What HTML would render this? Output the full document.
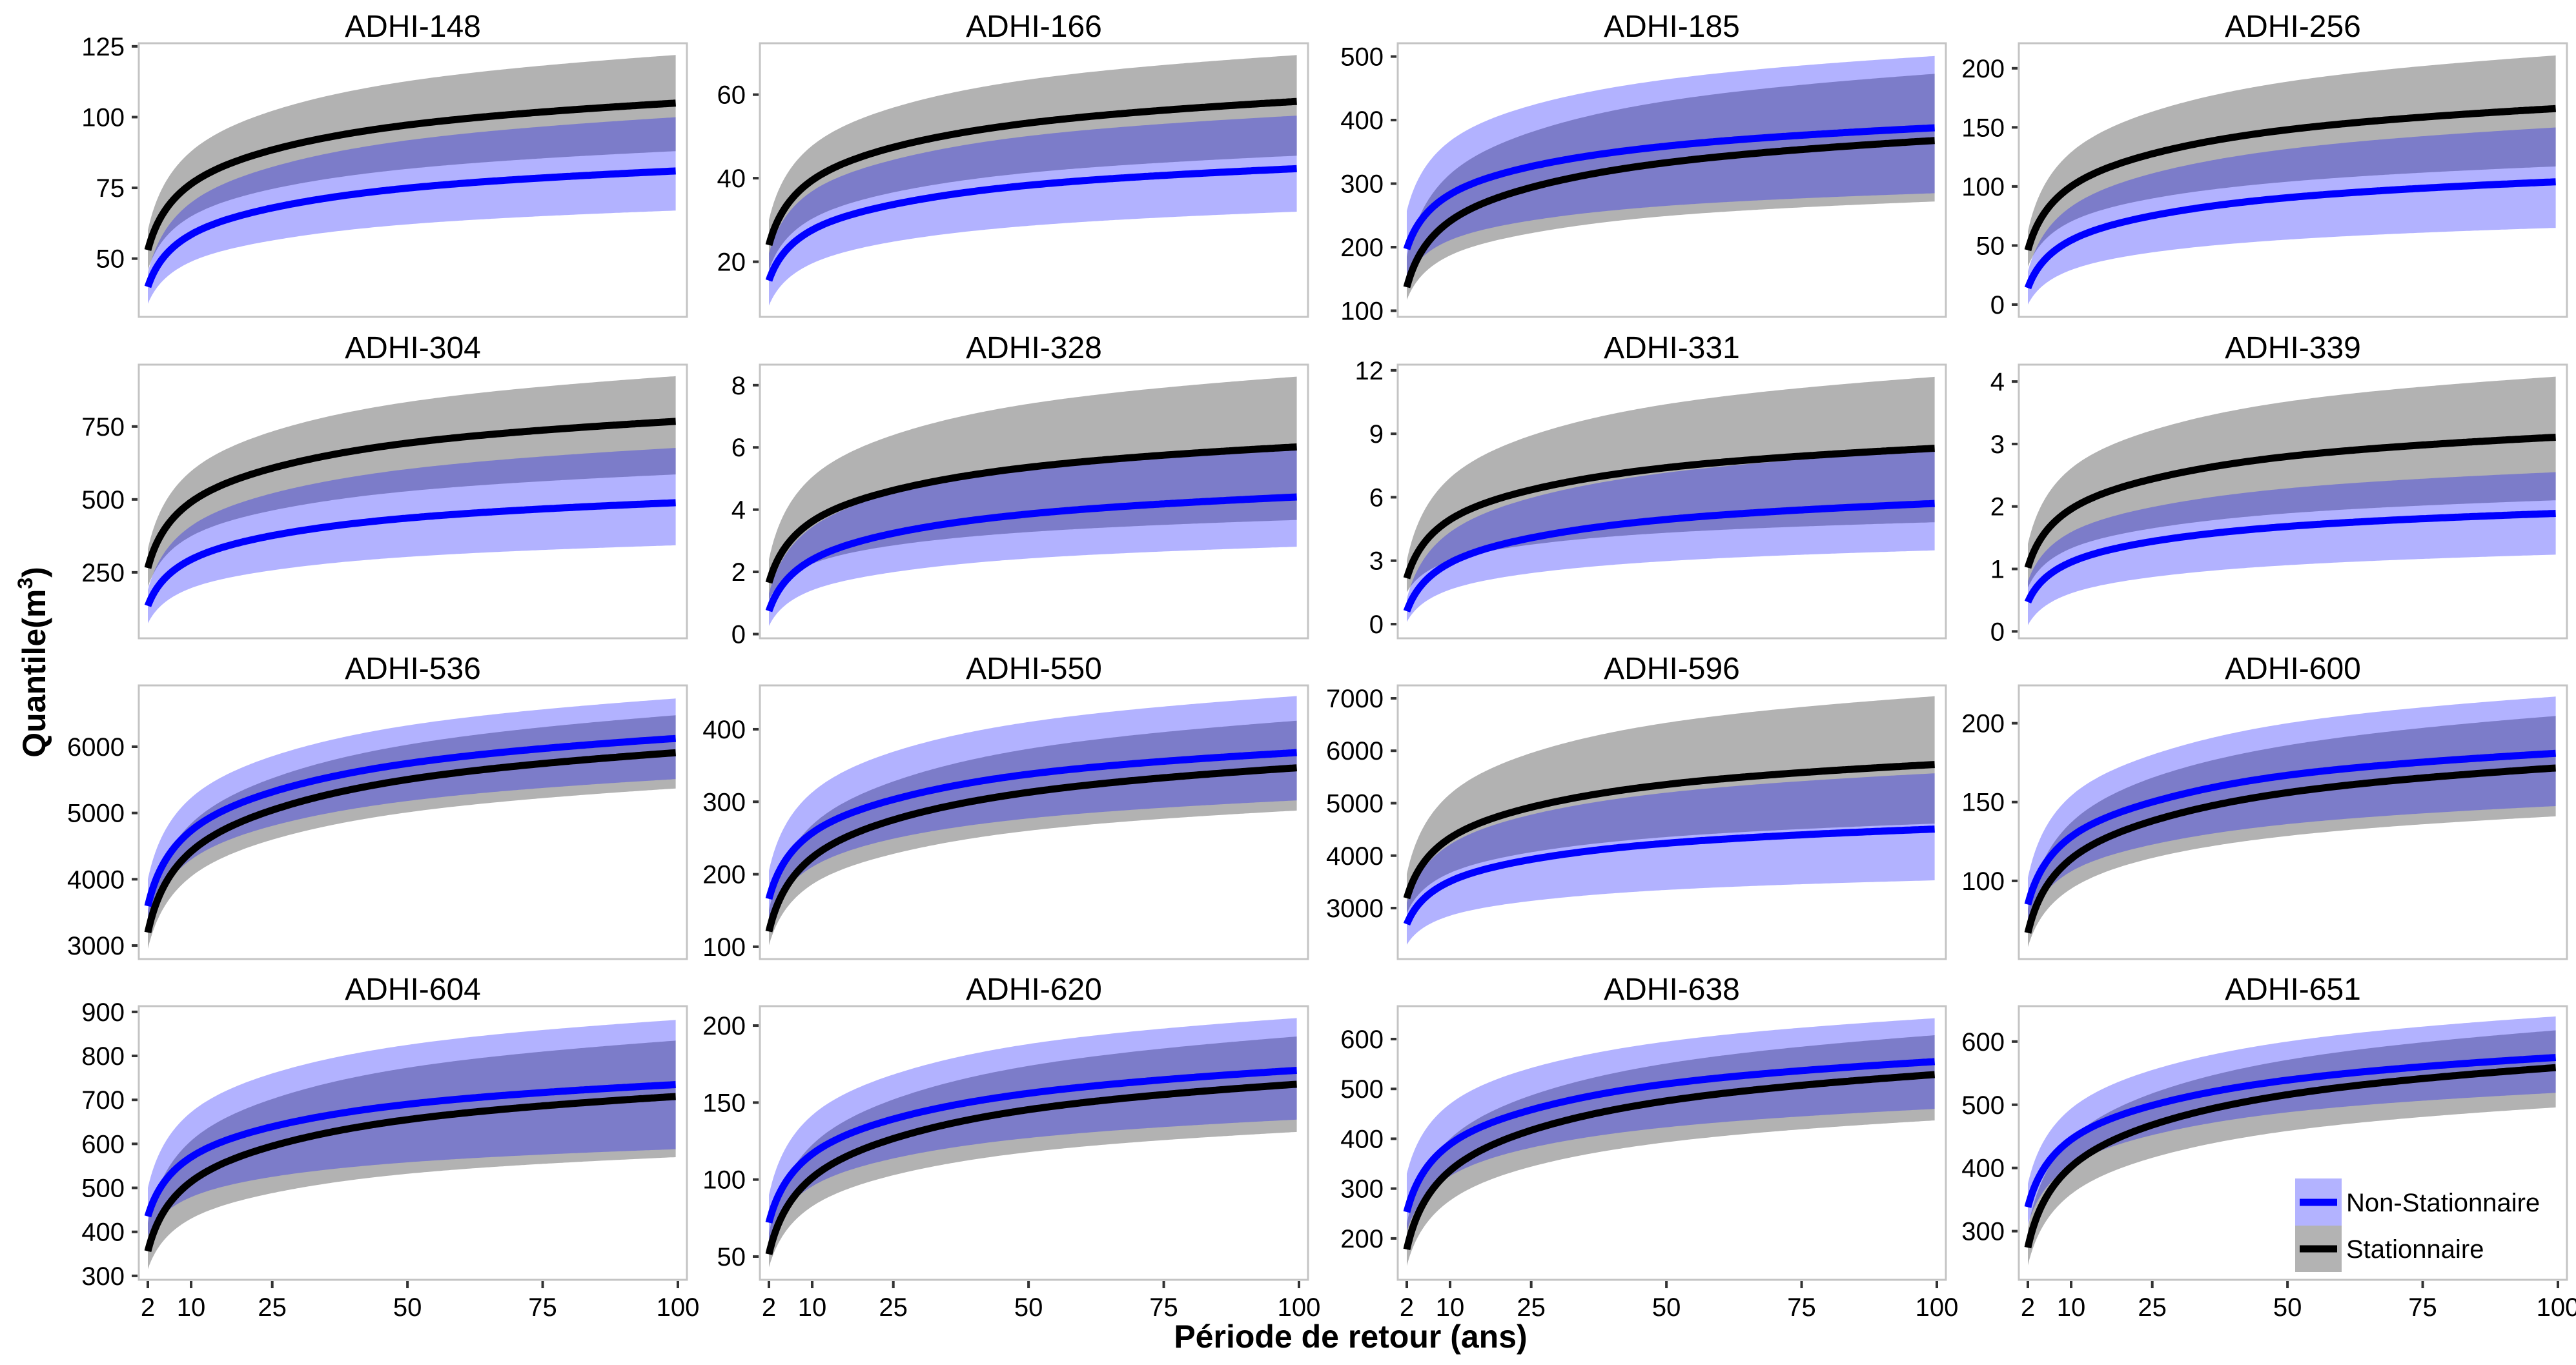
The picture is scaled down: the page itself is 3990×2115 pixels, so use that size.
<!DOCTYPE html>
<html><head><meta charset="utf-8">
<style>
html,body{margin:0;padding:0;background:#fff;}
svg{display:block;font-family:"Liberation Sans",Arial,sans-serif;}
</style></head>
<body>
<svg id="fig" width="3990" height="2115" viewBox="0 0 3990 2115" xmlns="http://www.w3.org/2000/svg">
<rect x="0" y="0" width="3990" height="2115" fill="#fff"/>
<text x="2092" y="2088" font-size="50" font-weight="bold" text-anchor="middle" fill="#000">Période de retour (ans)</text>
<text transform="translate(70,1026) rotate(-90)" font-size="50" font-weight="bold" text-anchor="middle" fill="#000">Quantile(m<tspan font-size="32" dy="-20">3</tspan><tspan dy="20">)</tspan></text>
<g id="panels"></g>
<g id="legend">
  <rect x="3555" y="1826" width="72" height="73" fill="#b3b3ff"/>
  <rect x="3555" y="1899" width="72" height="72" fill="#b3b3b3"/>
  <line x1="3562" y1="1863" x2="3620" y2="1863" stroke="#0000ff" stroke-width="11"/>
  <line x1="3562" y1="1935" x2="3620" y2="1935" stroke="#000" stroke-width="11"/>
  <text x="3634" y="1877" font-size="40" fill="#000">Non-Stationnaire</text>
  <text x="3634" y="1949" font-size="40" fill="#000">Stationnaire</text>
</g>
</svg>
<script>
// ---- data ----
const panelNames = ["ADHI-148","ADHI-166","ADHI-185","ADHI-256","ADHI-304","ADHI-328","ADHI-331","ADHI-339","ADHI-536","ADHI-550","ADHI-596","ADHI-600","ADHI-604","ADHI-620","ADHI-638","ADHI-651"];
const returnPeriods = [2,10,25,50,100];
const xTicks = [2,10,25,50,75,100];
const nsMean = [
 [40,58.5,67.9,74.9,81],[15.5,27.6,33.7,38.3,42.3],[197,283,327,359,388],[14,54.5,75.2,90.5,104],
 [135,294,376,436,489],[0.74,2.39,3.24,3.86,4.41],[0.61,2.9,4.08,4.95,5.71],[0.47,1.11,1.44,1.68,1.89],
 [3595,4734,5317,5747,6127],[166,257,303,338,368],[2692,3509,3927,4236,4508],[85,128,150,167,181],
 [435,570,639,690,735],[72,116.6,139.3,156,171],[253,389,458,510,555],[338,445,499,539,575]];
const nsLow = [
 [34,48.9,56.4,62.1,67],[9.5,19.6,24.8,28.6,32],[150,211,242,265,285],[0,29.3,44.2,55,65],
 [75,196,257,303,343],[0.26,1.41,1.99,2.43,2.81],[0.1,1.63,2.41,2.98,3.49],[0.1,0.61,0.87,1.06,1.23],
 [3300,4296,4805,5181,5513],[135,210,249,277,302],[2300,2854,3136,3346,3530],[72,106,123,136,147.5],
 [390,479,525,558,588],[60,95.6,113.7,127,139],[215,325,382,423,460],[310,404,452,488,519]];
const nsHigh = [
 [45,69.8,82.4,91.8,100],[22,36.9,44.4,50.1,55],[257,367,423,464,501],[28,82.9,111,131.7,150],
 [190,409,521,604,677],[1.3,3.44,4.53,5.34,6.05],[1.2,4.35,5.97,7.16,8.21],[0.8,1.59,1.99,2.29,2.55],
 [4000,5229,5856,6321,6730],[205,313,369,410,446],[3100,4212,4781,5201,5572],[102,154,180,200,217],
 [500,672,760,825,882],[90,141.8,168.2,188,205],[330,470,542,595,642],[375,494,555,600,640]];
const sMean = [
 [53,76.4,88.4,97.2,105],[24,39.5,47.4,53.2,58.4],[137,241,294,333,368],[46,100,127.6,148,166],
 [265,491,607,693,768],[1.65,3.62,4.62,5.36,6.02],[2.17,4.94,6.35,7.4,8.32],[1.02,1.96,2.44,2.8,3.11],
 [3196,4418,5043,5505,5912],[121,223,275,313,347],[3188,4336,4923,5357,5740],[67,114,138,156,171.7],
 [356,514,595,655,708],[51.5,101.2,126.6,145.4,162],[178,336,417,476,529],[274,402,468,516,559]];
const sLow = [
 [46,64.9,74.6,81.7,88],[18,30.3,36.6,41.3,45.4],[117,187,222,249,272],[32,70.3,89.8,104,117],
 [200,374,462,528,586],[1.1,2.26,2.85,3.28,3.67],[1.5,2.99,3.76,4.32,4.82],[0.7,1.33,1.65,1.89,2.1],
 [2950,4040,4597,5009,5372],[102,186,228,260,288],[2900,3670,4064,4355,4612],[58,95,114.5,128.5,141],
 [315,430,488,532,570],[43,82.6,102.8,117.8,131],[145,276,344,393,437],[246,358.5,416,458.5,496]];
const sHigh = [
 [60,87.9,102.2,112.7,122],[30,47.8,56.9,63.6,69.5],[185,315,381,430,473],[62,129,163.3,188.7,211],
 [330,597,733,834,923],[2.4,5.05,6.4,7.4,8.28],[3,6.92,8.92,10.4,11.7],[1.4,2.61,3.22,3.68,4.08],
 [3500,4840,5524,6030,6477],[150,268,328,373,412],[3650,5176,5957,6533,7042],[82,137,165.4,186,204.7],
 [420,607,702,773,835],[65,122.6,152,173.8,193],[230,400,487,551,608],[305,446,518,571,618]];
const yTicks = [
 [50,75,100,125],[20,40,60],[100,200,300,400,500],[0,50,100,150,200],
 [250,500,750],[0,2,4,6,8],[0,3,6,9,12],[0,1,2,3,4],
 [3000,4000,5000,6000],[100,200,300,400],[3000,4000,5000,6000,7000],[100,150,200],
 [300,400,500,600,700,800,900],[50,100,150,200],[200,300,400,500,600],[300,400,500,600]];
const yDomains = [
 [29.4,126.1],[6.8,72.3],[90.3,520.9],[-10.4,221.2],
 [24,962],[-0.135,8.66],[-0.67,12.27],[-0.11,4.27],
 [2796,6925],[83,460.5],[2028,7246],[50.4,224],
 [291,913],[34.9,212.6],[117,666],[223,656]];

// ---- layout ----
const colLefts = [215,1177,2165,3127];
const rowTops = [67,565,1062,1559];
const PW = 849, PH = 424, PAD = 14;
const NS = "http://www.w3.org/2000/svg";
const root = document.getElementById('panels');

function tz(T){ return Math.log(T); }
// monotone cubic in log(T)
function interpFn(xs, ys){
  const zs = xs.map(tz), n = zs.length;
  const d = [], m = [];
  for(let i=0;i<n-1;i++) d.push((ys[i+1]-ys[i])/(zs[i+1]-zs[i]));
  m[0]=d[0]; m[n-1]=d[n-2];
  for(let i=1;i<n-1;i++){ m[i] = (d[i-1]*d[i]<=0)?0:(d[i-1]+d[i])/2; }
  for(let i=0;i<n-1;i++){
    if(d[i]===0){m[i]=0;m[i+1]=0;continue;}
    const a=m[i]/d[i], b=m[i+1]/d[i], s=a*a+b*b;
    if(s>9){const t=3/Math.sqrt(s); m[i]=t*a*d[i]; m[i+1]=t*b*d[i];}
  }
  return function(T){
    const z = tz(T);
    let i=0; while(i<n-2 && z>zs[i+1]) i++;
    const h = zs[i+1]-zs[i], t=(z-zs[i])/h;
    const h00=2*t*t*t-3*t*t+1, h10=t*t*t-2*t*t+t, h01=-2*t*t*t+3*t*t, h11=t*t*t-t*t;
    return h00*ys[i]+h10*h*m[i]+h01*ys[i+1]+h11*h*m[i+1];
  };
}
function el(tag, attrs){ const e=document.createElementNS(NS,tag); for(const k in attrs) e.setAttribute(k,attrs[k]); return e; }

const samples = [];
for(let T=2; T<=100.0001; T+= (T<10?0.1:0.5)) samples.push(Math.min(T,100));

panelNames.forEach((name, p) => {
  const left = colLefts[p%4], top = rowTops[Math.floor(p/4)];
  const [y0,y1] = yDomains[p];
  const xScale = T => left + PAD + (T-2)/98*(PW-2*PAD);
  const yScale = v => top + PH - (v-y0)/(y1-y0)*PH;
  const g = el('g',{});
  
  
  root.appendChild(g);
  const clipId = 'clip'+p;
  const cp = el('clipPath',{id:clipId}); cp.appendChild(el('rect',{x:left,y:top,width:PW,height:PH})); g.appendChild(cp);

  const title = el('text',{x:left+PW/2,y:top-10,'font-size':48,'text-anchor':'middle',fill:'#000'});
  title.textContent = name;
  
  
  g.appendChild(title);

  const plot = el('g',{'clip-path':'url(#'+clipId+')'});
  g.appendChild(plot);

  function band(lo, hi, color, label){
    const fl = interpFn(returnPeriods, lo), fh = interpFn(returnPeriods, hi);
    let d = samples.map((T,i)=>(i?'L':'M')+xScale(T).toFixed(1)+','+yScale(fh(T)).toFixed(1)).join(' ');
    d += ' ' + samples.slice().reverse().map(T=>'L'+xScale(T).toFixed(1)+','+yScale(fl(T)).toFixed(1)).join(' ') + ' Z';
    const path = el('path',{d:d,fill:color,'fill-opacity':0.3,stroke:'none'});
    
    
    plot.appendChild(path);
  }
  function line(vals, color, label){
    const f = interpFn(returnPeriods, vals);
    const d = samples.map((T,i)=>(i?'L':'M')+xScale(T).toFixed(1)+','+yScale(f(T)).toFixed(1)).join(' ');
    const path = el('path',{d:d,fill:'none',stroke:color,'stroke-width':11,'stroke-linejoin':'round'});
    
    
    plot.appendChild(path);
  }
  band(sLow[p], sHigh[p], '#000000', 'stationnaire-band');
  band(nsLow[p], nsHigh[p], '#0000ff', 'non-stationnaire-band');
  line(sMean[p], '#000000', 'stationnaire-line');
  line(nsMean[p], '#0000ff', 'non-stationnaire-line');

  const frame = el('rect',{x:left,y:top,width:PW,height:PH,fill:'none',stroke:'#c4c4c4','stroke-width':3});
  
  
  g.appendChild(frame);

  yTicks[p].forEach(v => {
    const y = yScale(v);
    const tk = el('line',{x1:left-11,y1:y,x2:left-2,y2:y,stroke:'#333','stroke-width':4});
    
    
    g.appendChild(tk);
    const lb = el('text',{x:left-22,y:y+14,'font-size':40,'text-anchor':'end',fill:'#000'});
    lb.textContent = String(v);
    
    
    g.appendChild(lb);
  });

  if (Math.floor(p/4) === 3) {
    xTicks.forEach(T => {
      const x = xScale(T);
      const tk = el('line',{x1:x,y1:top+PH+2,x2:x,y2:top+PH+13,stroke:'#333','stroke-width':4});
      
      
      g.appendChild(tk);
      const lb = el('text',{x:x,y:top+PH+56,'font-size':40,'text-anchor':'middle',fill:'#000'});
      lb.textContent = String(T);
      
      
      g.appendChild(lb);
    });
  }
});
document.getElementById('fig').appendChild(document.getElementById('legend'));
</script>
</body></html>
